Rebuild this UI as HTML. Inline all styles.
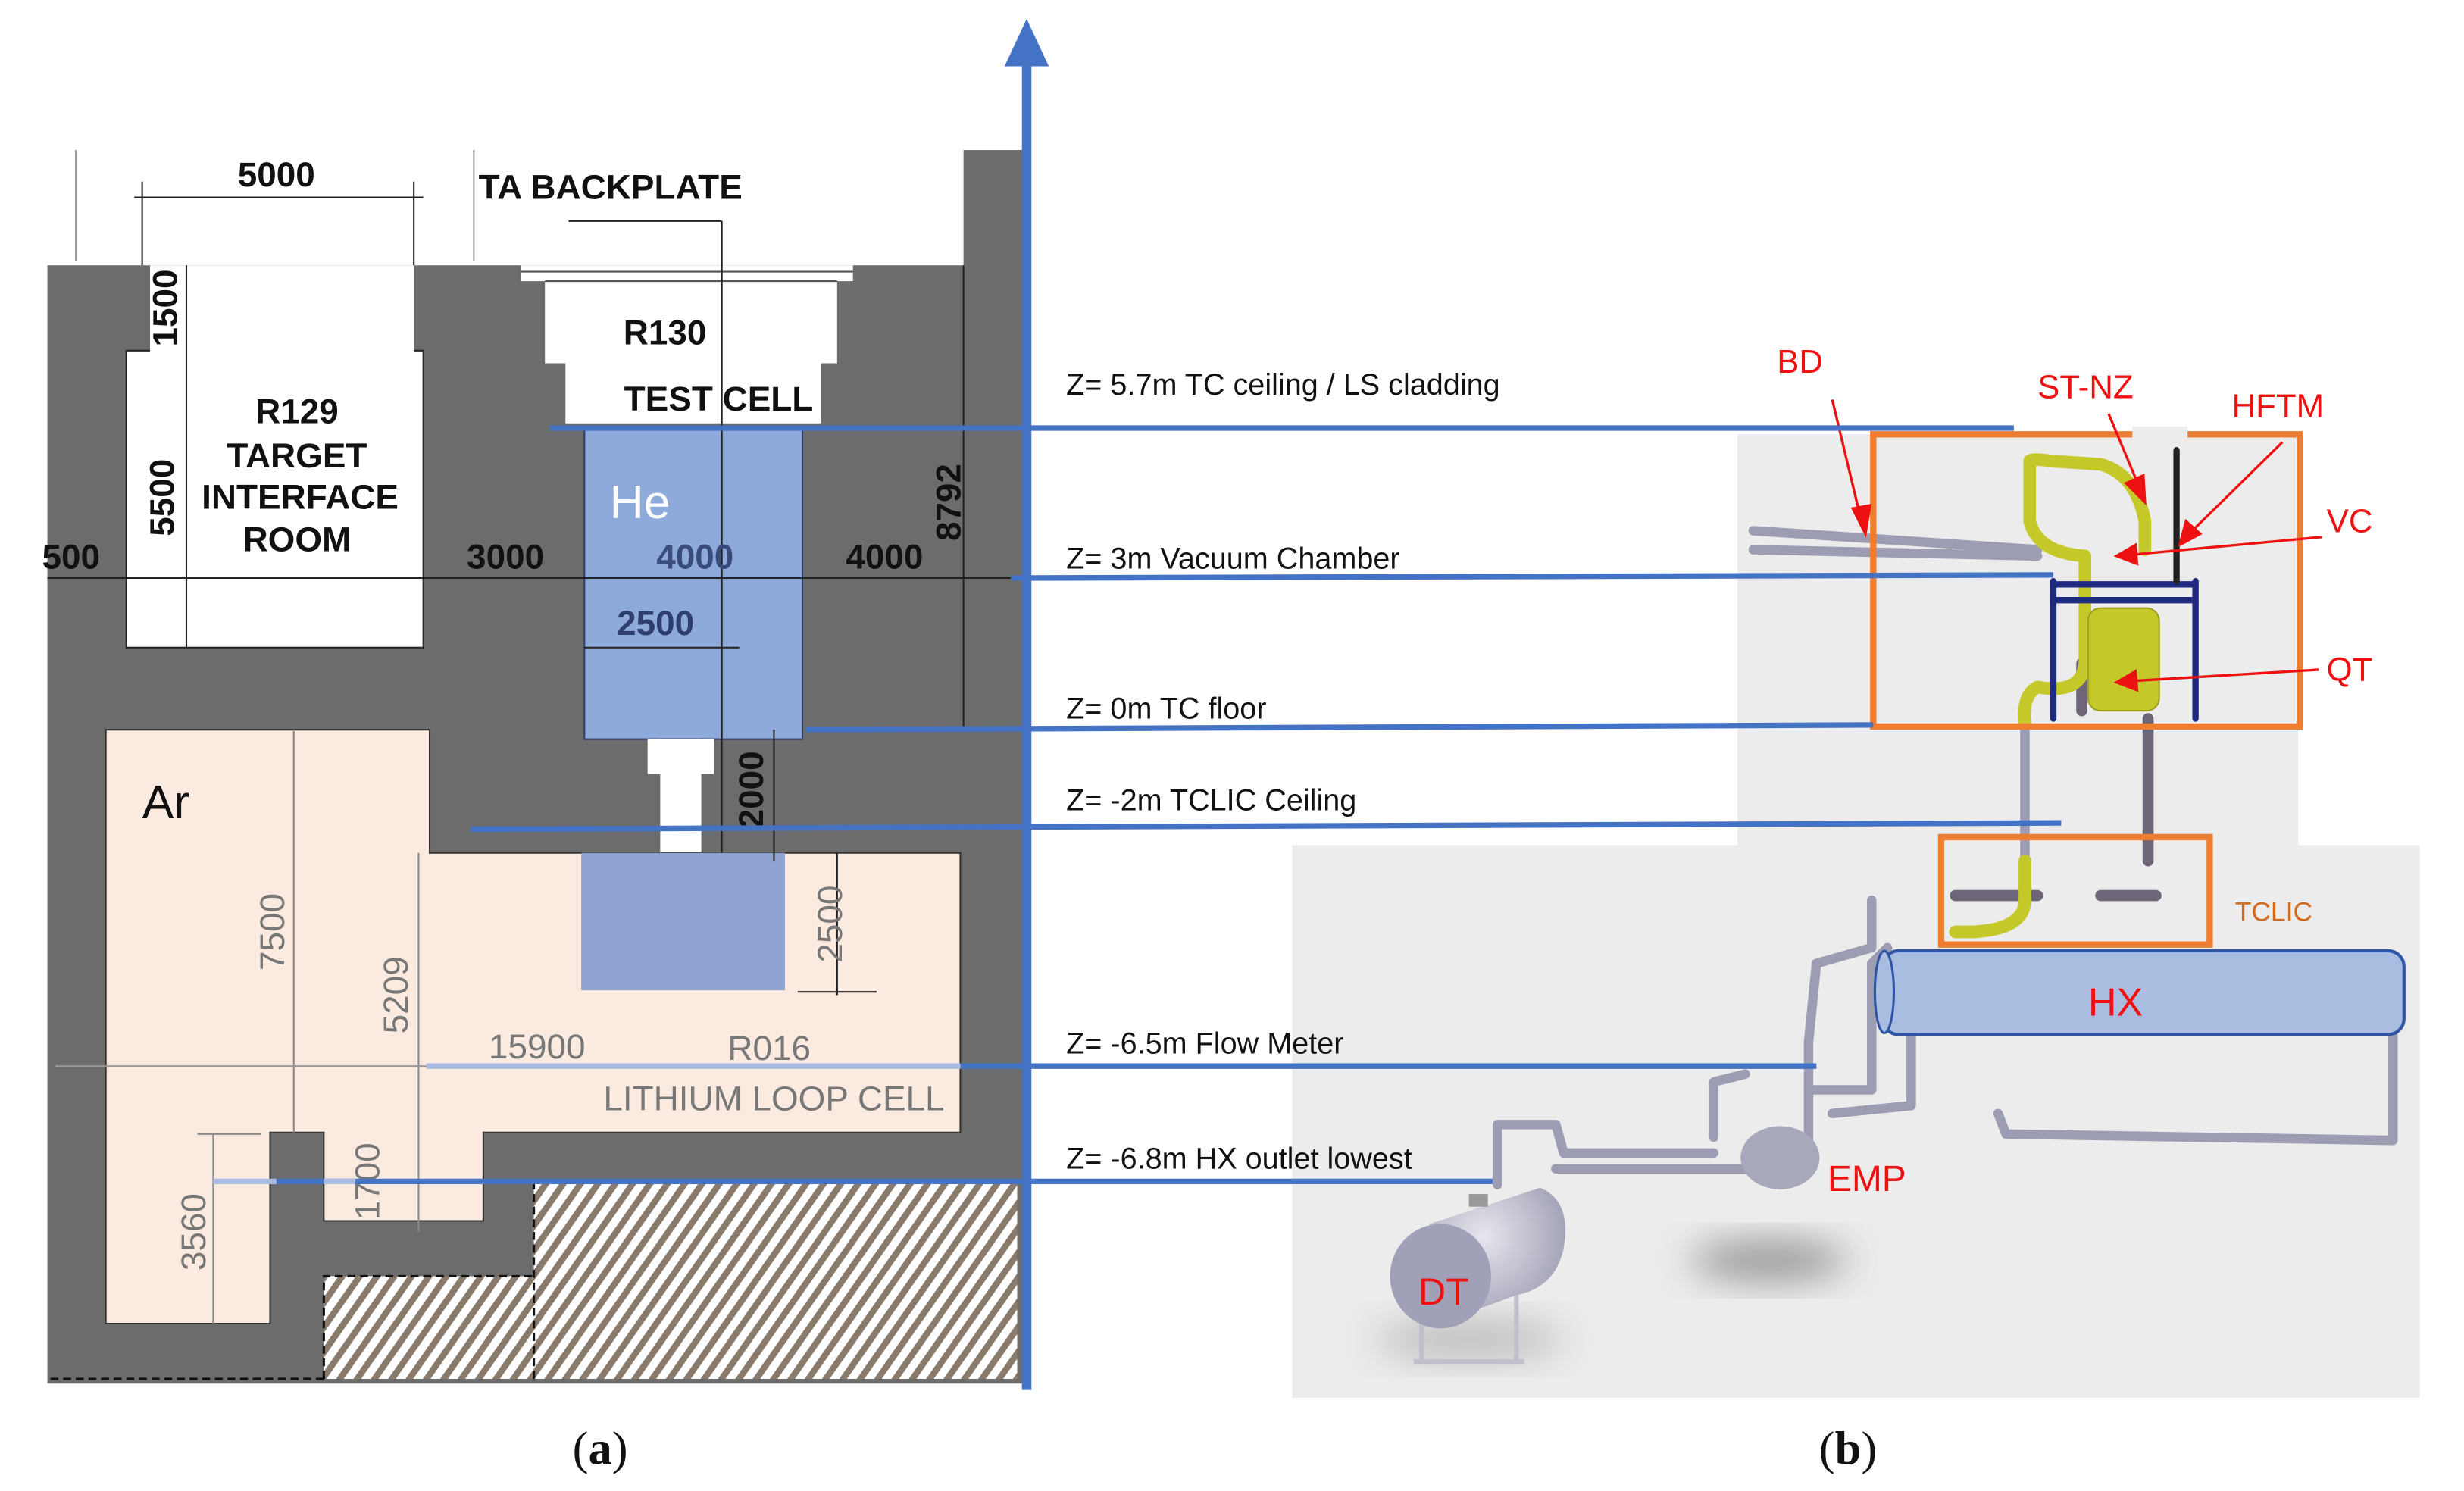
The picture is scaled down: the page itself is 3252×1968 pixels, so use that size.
<!DOCTYPE html>
<html><head><meta charset="utf-8"><style>
html,body{margin:0;padding:0;background:#fff;}
svg{display:block;}
</style></head><body>
<svg width="3252" height="1968" viewBox="0 0 1560 944" preserveAspectRatio="none" xmlns="http://www.w3.org/2000/svg">
<defs>
<pattern id="hatch" width="9" height="9" patternUnits="userSpaceOnUse" patternTransform="rotate(35)">
<rect width="9" height="9" fill="#fff"/><rect width="4" height="9" fill="#8a7a6c"/>
</pattern>
<filter id="blur" x="-50%" y="-50%" width="200%" height="200%"><feGaussianBlur stdDeviation="12"/></filter>
<radialGradient id="tank" cx="0.4" cy="0.35" r="0.7"><stop offset="0" stop-color="#e6e6ee"/><stop offset="1" stop-color="#9a9ab0"/></radialGradient>
</defs>
<rect width="1560" height="944" fill="#fff"/>

<!-- LEFT PANEL -->
<g font-family="Liberation Sans, sans-serif">
<line x1="48" y1="95" x2="48" y2="165" stroke="#999" stroke-width="1"/>
<line x1="300" y1="95" x2="300" y2="165" stroke="#999" stroke-width="1"/>
<rect x="30" y="168" width="620" height="708" fill="#6c6c6c"/>
<rect x="610" y="95" width="40" height="75" fill="#6c6c6c"/>
<rect x="80" y="222" width="188" height="188" fill="#fff" stroke="#222" stroke-width="1"/>
<rect x="95" y="168" width="167" height="56" fill="#fff"/>
<polygon points="330,168 540,168 540,178 530,178 530,230 520,230 520,268 358,268 358,230 345,230 345,178 330,178" fill="#fff"/>
<line x1="330" y1="172" x2="540" y2="172" stroke="#555" stroke-width="1"/>
<line x1="345" y1="178" x2="530" y2="178" stroke="#555" stroke-width="1"/>
<rect x="370" y="270" width="138" height="198" fill="#8eaadb" stroke="#2f3f6f" stroke-width="1"/>
<rect x="418" y="468" width="26" height="72" fill="#fff"/>
<rect x="410" y="468" width="42" height="22" fill="#fff"/>
<polygon points="67,462 272,462 272,540 608,540 608,717 306,717 306,773 205,773 205,717 171,717 171,838 67,838" fill="#fbeae0" stroke="#333" stroke-width="1"/>
<rect x="368" y="540" width="129" height="87" fill="#8fa2d0"/>
<polygon points="338,748 644,748 644,873 205,873 205,808 338,808" fill="url(#hatch)"/>
<polyline points="338,873 338,748 644,748" fill="none" stroke="#111" stroke-width="1.5" stroke-dasharray="5,3"/>
<polyline points="205,873 205,808 338,808" fill="none" stroke="#111" stroke-width="1.5" stroke-dasharray="5,3"/>
<line x1="32" y1="873" x2="205" y2="873" stroke="#111" stroke-width="1.5" stroke-dasharray="5,3"/>
<g stroke="#222" stroke-width="1" fill="none">
<line x1="85" y1="125" x2="268" y2="125"/><line x1="90" y1="115" x2="90" y2="168"/><line x1="262" y1="115" x2="262" y2="168"/>
<line x1="360" y1="140" x2="457" y2="140"/><line x1="457" y1="140" x2="457" y2="540"/>
<line x1="118" y1="168" x2="118" y2="410"/>
<line x1="30" y1="366" x2="640" y2="366"/>
<line x1="370" y1="410" x2="468" y2="410"/>
<line x1="610" y1="168" x2="610" y2="462"/>
<line x1="490" y1="462" x2="490" y2="545"/>
<line x1="530" y1="540" x2="530" y2="630"/><line x1="505" y1="628" x2="555" y2="628"/>
<line x1="186" y1="462" x2="186" y2="717" stroke="#888"/>
<line x1="265" y1="540" x2="265" y2="780" stroke="#888"/>
<line x1="35" y1="675" x2="608" y2="675" stroke="#999"/>
<line x1="135" y1="718" x2="135" y2="838" stroke="#888"/>
<line x1="125" y1="718" x2="165" y2="718" stroke="#888"/>
</g>
<g font-size="22" fill="#111" text-anchor="middle" font-weight="bold">
<text x="175" y="118">5000</text>
<text x="303" y="126" text-anchor="start">TA BACKPLATE</text>
<text x="421" y="218">R130</text>
<text x="455" y="260">TEST CELL</text>
<text x="188" y="268">R129</text>
<text x="188" y="296">TARGET</text>
<text x="190" y="322">INTERFACE</text>
<text x="188" y="349">ROOM</text>
<text x="45" y="360">500</text>
<text x="320" y="360">3000</text>
<text x="560" y="360">4000</text>
<text x="440" y="360" fill="#3a4c7c">4000</text>
<text x="415" y="402" fill="#2e3e6e">2500</text>
<text transform="translate(112,195) rotate(-90)">1500</text>
<text transform="translate(110,315) rotate(-90)">5500</text>
<text transform="translate(608,318) rotate(-90)">8792</text>
<text transform="translate(483,500) rotate(-90)">2000</text>
<text transform="translate(533,585) rotate(-90)" fill="#777" font-weight="normal">2500</text>
<text transform="translate(180,590) rotate(-90)" fill="#777" font-weight="normal">7500</text>
<text transform="translate(258,630) rotate(-90)" fill="#777" font-weight="normal">5209</text>
<text transform="translate(130,780) rotate(-90)" fill="#777" font-weight="normal">3560</text>
<text transform="translate(240,748) rotate(-90)" fill="#777" font-weight="normal">1700</text>
<text x="340" y="670" fill="#777" font-weight="normal">15900</text>
<text x="487" y="671" fill="#777" font-weight="normal">R016</text>
<text x="490" y="703" fill="#777" font-weight="normal">LITHIUM LOOP CELL</text>
</g>
<text x="386" y="328" font-size="30" fill="#fff">He</text>
<text x="90" y="518" font-size="30" fill="#111">Ar</text>
</g>

<!-- RIGHT PANEL background -->
<polygon points="1100,275 1455,275 1455,535 1532,535 1532,885 818,885 818,535 1100,535" fill="#ececec"/>
<ellipse cx="1120" cy="798" rx="50" ry="12" fill="#555" opacity="0.6" filter="url(#blur)"/>
<ellipse cx="930" cy="848" rx="60" ry="12" fill="#888" opacity="0.5" filter="url(#blur)"/>

<g fill="none" stroke-linecap="round" stroke-linejoin="round">
<g stroke="#9c9cb2" stroke-width="6">
<line x1="1110" y1="336" x2="1290" y2="348"/><line x1="1110" y1="348" x2="1290" y2="352"/>
<line x1="1282" y1="460" x2="1282" y2="545"/>
<polyline points="1185,570 1185,600 1150,610 1145,660 1145,735"/>
<polyline points="1195,600 1185,610 1185,690 1145,690"/>
<polyline points="1210,650 1210,700 1160,705"/>
<polyline points="1515,655 1515,722 1270,718 1265,705"/>
<polyline points="1085,720 1085,685 1105,680"/>
<polyline points="948,750 948,712 985,712 990,730 1085,730"/>
<polyline points="985,740 1125,740"/>
</g>
<g stroke="#6e6678" stroke-width="7">
<line x1="1360" y1="455" x2="1360" y2="545"/>
<line x1="1238" y1="567" x2="1290" y2="567"/><line x1="1330" y1="567" x2="1365" y2="567"/>
<line x1="1318" y1="450" x2="1318" y2="420"/>
</g>
<g stroke="#c4c828" stroke-width="8">
<path d="M1282,545 L1282,570 Q1282,588 1250,590 L1238,590"/>
<path d="M1285,292 Q1285,290 1300,292 L1330,294 Q1352,300 1358,330 L1358,348"/>
<path d="M1285,292 L1285,330 Q1290,350 1320,352 L1320,420 Q1318,440 1290,435 Q1280,440 1282,458"/>
</g>
<rect x="1322" y="385" width="45" height="65" rx="8" fill="#c4c828" stroke="#9ea020"/>
<g stroke="#1e2a80" stroke-width="4">
<line x1="1300" y1="368" x2="1300" y2="455"/><line x1="1390" y1="368" x2="1390" y2="455"/>
<line x1="1300" y1="370" x2="1390" y2="370"/><line x1="1300" y1="380" x2="1390" y2="380"/>
</g>
<line x1="1378" y1="285" x2="1378" y2="368" stroke="#222" stroke-width="4"/>
</g>

<ellipse cx="1127" cy="733" rx="25" ry="20" fill="#a8a8bc"/>
<g stroke="#c0c0cc" stroke-width="3"><line x1="900" y1="830" x2="900" y2="862"/><line x1="960" y1="820" x2="960" y2="862"/><line x1="895" y1="862" x2="965" y2="862"/></g>
<path d="M905,775 L975,752 Q995,760 990,790 Q985,815 960,820 L905,840 Z" fill="url(#tank)"/>
<ellipse cx="912" cy="808" rx="32" ry="33" fill="#a0a0b8"/>
<rect x="930" y="756" width="12" height="8" fill="#999"/>

<rect x="1192" y="602" width="330" height="53" rx="10" fill="#a9bde0" stroke="#2f55a4" stroke-width="2"/>
<ellipse cx="1193" cy="628" rx="6" ry="26" fill="#a9bde0" stroke="#2f55a4" stroke-width="1.5"/>

<rect x="1186" y="275" width="270" height="185" fill="none" stroke="#ed7d31" stroke-width="4"/>
<rect x="1350" y="270" width="35" height="10" fill="#ececec"/>
<rect x="1229" y="530" width="170" height="68" fill="none" stroke="#ed7d31" stroke-width="4"/>

<g stroke="#ee1111" stroke-width="1.6" fill="#ee1111">
<line x1="1160" y1="253" x2="1178" y2="328"/><polygon points="1181,338 1173,322 1184,320"/>
<line x1="1335" y1="262" x2="1353" y2="305"/><polygon points="1358,318 1346,306 1357,301"/>
<line x1="1445" y1="280" x2="1387" y2="337"/><polygon points="1380,345 1384,330 1393,338"/>
<line x1="1470" y1="340" x2="1352" y2="351"/><polygon points="1340,352 1352,345 1353,357"/>
<line x1="1468" y1="424" x2="1352" y2="431"/><polygon points="1340,432 1352,425 1353,437"/>
</g>
<g font-family="Liberation Sans, sans-serif" fill="#ee1111" font-size="21">
<text x="1125" y="236">BD</text><text x="1290" y="252">ST-NZ</text><text x="1413" y="264">HFTM</text>
<text x="1473" y="337">VC</text><text x="1473" y="431">QT</text>
<text x="1157" y="754" font-size="23">EMP</text><text x="898" y="826" font-size="24">DT</text>
<text x="1322" y="643" font-size="25">HX</text>
<text x="1415" y="583" font-size="17" fill="#d46a1e">TCLIC</text>
</g>

<g stroke="#4472c4" stroke-width="3.5">
<line x1="348" y1="271" x2="1275" y2="271"/>
<line x1="640" y1="366" x2="1300" y2="364"/>
<line x1="510" y1="462" x2="1186" y2="459"/>
<line x1="298" y1="525" x2="1305" y2="521"/>
<line x1="608" y1="675" x2="1150" y2="675"/>
<line x1="175" y1="748" x2="945" y2="748"/>
</g>
<line x1="270" y1="675" x2="608" y2="675" stroke="#a9bbe0" stroke-width="3.5"/>
<line x1="135" y1="748" x2="175" y2="748" stroke="#a9bbe0" stroke-width="3.5"/>
<line x1="205" y1="748" x2="225" y2="748" stroke="#a9bbe0" stroke-width="3.5"/>
<line x1="650" y1="880" x2="650" y2="38" stroke="#4472c4" stroke-width="6"/>
<polygon points="650,12 636,42 664,42" fill="#4472c4"/>
<g font-family="Liberation Sans, sans-serif" font-size="19" fill="#111">
<text x="675" y="250">Z= 5.7m TC ceiling / LS cladding</text>
<text x="675" y="360">Z= 3m Vacuum Chamber</text>
<text x="675" y="455">Z= 0m TC floor</text>
<text x="675" y="513">Z= -2m TCLIC Ceiling</text>
<text x="675" y="667">Z= -6.5m Flow Meter</text>
<text x="675" y="740">Z= -6.8m HX outlet lowest</text>
</g>
<g font-family="Liberation Serif, serif" font-size="30" fill="#111" text-anchor="middle">
<text x="380" y="927">(<tspan font-weight="bold">a</tspan>)</text>
<text x="1170" y="927">(<tspan font-weight="bold">b</tspan>)</text>
</g>
</svg>
</body></html>
